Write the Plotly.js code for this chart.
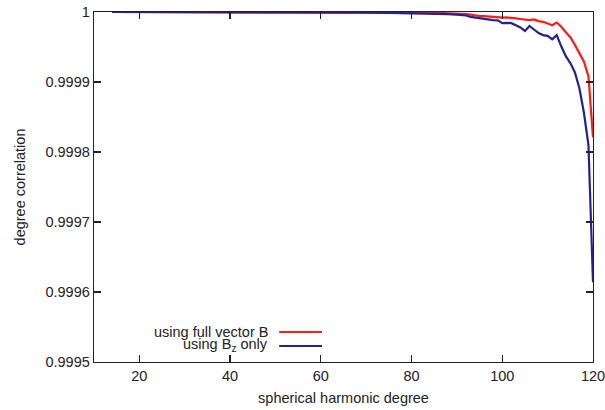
<!DOCTYPE html>
<html>
<head>
<meta charset="utf-8">
<script src="https://cdn.plot.ly/plotly-3.0.1.min.js"></script>
<style>html,body{margin:0;padding:0;background:#fff;}#chart{width:605px;height:410px;}</style>
</head>
<body>
<div id="chart"></div>
<script>
// spherical harmonic degree
var degrees = [14, 20, 30, 40, 50, 60, 65, 70, 75, 80, 82, 84, 86, 88, 90,
  91, 92, 93, 94, 95, 96, 97, 98, 99, 100, 101, 102, 103, 104, 105, 106, 107, 108, 109, 110,
  111, 112, 113, 114, 115, 116, 117, 118, 119, 120];

// degree correlation, using full vector B
var fullVectorB = [1.0, 1.0, 1.0, 0.9999999, 0.9999999, 0.9999998, 0.9999998, 0.9999997, 0.9999996, 0.9999994, 0.9999993, 0.999999, 0.9999988, 0.9999985, 0.999998,
  0.9999978, 0.999997, 0.9999962, 0.999995, 0.9999943, 0.999994, 0.9999935, 0.9999925, 0.9999922, 0.999992, 0.9999922, 0.999992, 0.999991, 0.99999, 0.999989, 0.9999885, 0.9999895, 0.999987, 0.999986, 0.999984,
  0.999981, 0.999985, 0.999979, 0.999971, 0.999964, 0.999953, 0.999941, 0.999929, 0.999908, 0.999821];

// degree correlation, using Bz only
var bzOnly = [1.0, 1.0, 0.9999999, 0.9999998, 0.9999997, 0.9999995, 0.9999993, 0.999999, 0.9999988, 0.9999985, 0.9999982, 0.999998, 0.9999975, 0.999997, 0.9999962,
  0.9999957, 0.999995, 0.999993, 0.999992, 0.9999905, 0.99999, 0.999989, 0.9999885, 0.999988, 0.999984, 0.9999845, 0.999984, 0.999981, 0.999978, 0.999973, 0.99998, 0.999975, 0.99997, 0.999967, 0.999966,
  0.999961, 0.999967, 0.999951, 0.999937, 0.999927, 0.999914, 0.999891, 0.999856, 0.99981, 0.999614];

var seriesNames = ['using full vector B', 'using B<sub>z</sub> only'];
var xTickVals = [20, 40, 60, 80, 100, 120];
var yTickVals = [0.9995, 0.9996, 0.9997, 0.9998, 0.9999, 1];
var yTickText = ['0.9995', '0.9996', '0.9997', '0.9998', '0.9999', '1'];

var redColor = '#ff1a1a';
var blueColor = '#23238e';
var fontFam = 'Liberation Sans, Arial, Helvetica, sans-serif';

var traces = [
  {x: degrees, y: fullVectorB, type: 'scatter', mode: 'lines', name: seriesNames[0],
   line: {color: redColor, width: 2.2}, showlegend: false},
  {x: degrees, y: bzOnly, type: 'scatter', mode: 'lines', name: seriesNames[1],
   line: {color: blueColor, width: 2.2}, showlegend: false}
];

var axisCommon = {
  showline: true, linecolor: '#222', linewidth: 1.3, mirror: 'ticks',
  ticks: 'inside', ticklen: 7, tickwidth: 1.3, tickcolor: '#222',
  showgrid: false, zeroline: false, ticklabeloverflow: 'allow',
  tickfont: {family: fontFam, size: 14.5, color: '#222'}
};

var layout = {
  width: 605, height: 410,
  margin: {l: 94, r: 12, t: 12, b: 48},
  paper_bgcolor: '#fff', plot_bgcolor: '#fff',
  font: {family: fontFam, size: 14.5, color: '#222'},
  xaxis: Object.assign({}, axisCommon, {
    range: [10, 120], tickvals: xTickVals, ticktext: xTickVals.map(String),
    title: {text: 'spherical harmonic degree', font: {family: fontFam, size: 14.5, color: '#222'}, standoff: 10}
  }),
  yaxis: Object.assign({}, axisCommon, {
    range: [0.9995, 1], tickvals: yTickVals, ticktext: yTickText,
    title: {text: 'degree correlation', font: {family: fontFam, size: 14.5, color: '#222'}, standoff: 16}
  }),
  showlegend: false,
  annotations: [
    {xref: 'paper', yref: 'paper', x: 0.3527, y: 0.0857, xanchor: 'right', yanchor: 'middle',
     text: seriesNames[0], showarrow: false, font: {family: fontFam, size: 14.5, color: '#222'}},
    {xref: 'paper', yref: 'paper', x: 0.3527, y: 0.0486, xanchor: 'right', yanchor: 'middle',
     text: seriesNames[1], showarrow: false, font: {family: fontFam, size: 14.5, color: '#222'}}
  ],
  shapes: [
    {type: 'line', xref: 'paper', yref: 'paper', x0: 0.371, x1: 0.457, y0: 0.0857, y1: 0.0857,
     line: {color: redColor, width: 2.2}},
    {type: 'line', xref: 'paper', yref: 'paper', x0: 0.371, x1: 0.457, y0: 0.0457, y1: 0.0457,
     line: {color: blueColor, width: 2.2}}
  ]
};

Plotly.newPlot('chart', traces, layout, {displayModeBar: false, staticPlot: true});
</script>
</body>
</html>
